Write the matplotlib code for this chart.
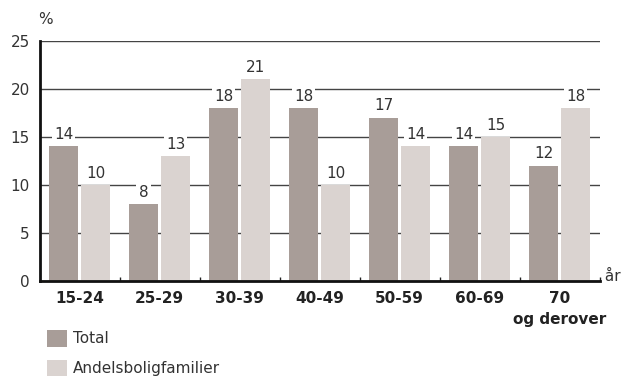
import matplotlib
matplotlib.use("Agg")
import matplotlib.pyplot as plt
import numpy as np

groups = ["15-24", "25-29", "30-39", "40-49", "50-59", "60-69", "70\nog derover"]
total = [14, 8, 18, 18, 17, 14, 12]
andel = [10, 13, 21, 10, 14, 15, 18]
series_names = ["Total", "Andelsboligfamilier"]
yticks = [0, 5, 10, 15, 20, 25]

c_total = "#a89d98"
c_andel = "#dad3d0"
txt = "#333333"

fig = plt.figure(figsize=(6.23, 3.83), dpi=100)
ax = fig.add_axes([39.5 / 623, 1 - 281 / 383, 560 / 623, 240.3 / 383])

x = np.arange(len(groups))
w = 0.36
b1 = ax.bar(x - 0.2, total, w, color=c_total, label=series_names[0], zorder=2)
b2 = ax.bar(x + 0.2, andel, w, color=c_andel, label=series_names[1], zorder=2)

# value labels on white boxes (they cut the gridlines like in the original)
for bars, vals in ((b1, total), (b2, andel)):
    for r, v in zip(bars, vals):
        ax.annotate(str(v), (r.get_x() + r.get_width() / 2, v), xytext=(0, 3),
                    textcoords="offset points", ha="center", va="bottom",
                    fontsize=11, color=txt, zorder=3,
                    bbox=dict(boxstyle="square,pad=0.15", fc="white", ec="none"))

ax.set_xlim(-0.5, len(groups) - 0.5)
ax.set_ylim(0, 25)
ax.set_yticks(yticks)
ax.yaxis.grid(True, color="#444444", linewidth=1.0, zorder=0)
ax.set_axisbelow(True)
ax.tick_params(axis="y", length=0, pad=7, labelsize=11, labelcolor=txt)

ax.set_xticks(x)
ax.set_xticklabels(groups, fontsize=11, fontweight="bold", color="#222222", linespacing=1.5)
ax.tick_params(axis="x", which="major", length=0, pad=7)
ax.set_xticks(np.arange(0.5, len(groups), 1.0), minor=True)
ax.tick_params(axis="x", which="minor", direction="in", length=3, width=1, color="#222222")

for s in ("top", "right"):
    ax.spines[s].set_visible(False)
for s in ("left", "bottom"):
    ax.spines[s].set_linewidth(2)
    ax.spines[s].set_color("#111111")

fig.text(38 / 623, 1 - 19 / 383, "%", fontsize=11, color=txt, va="center", ha="left")
ax.text(len(groups) - 0.5, 0, " år", fontsize=11, color=txt, ha="left", va="baseline")

fig.legend(handles=[b1, b2], loc="upper left", bbox_to_anchor=(47 / 623, 1 - 330 / 383),
           frameon=False, fontsize=11, handlelength=1.3, handleheight=1.3,
           handletextpad=0.4, labelspacing=0.85, borderpad=0, borderaxespad=0,
           labelcolor=txt)

fig.savefig("out.png", dpi=100)
